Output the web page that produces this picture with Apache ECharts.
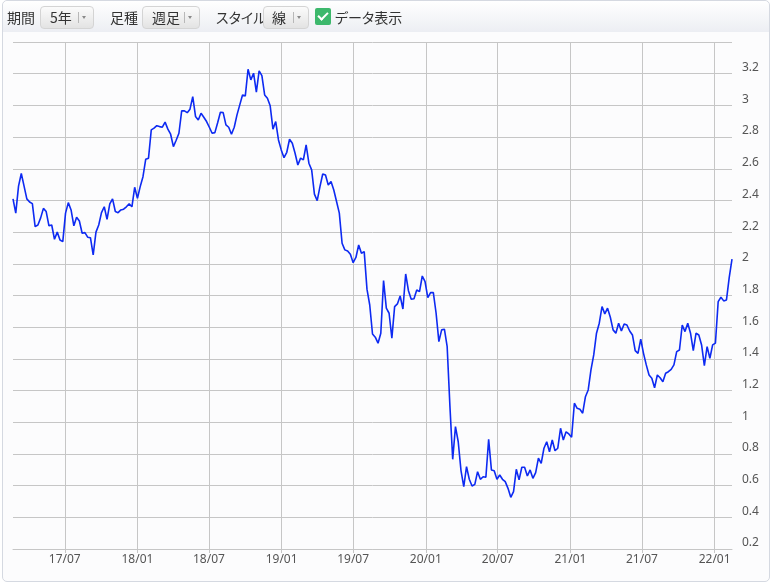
<!DOCTYPE html>
<html>
<head>
<meta charset="utf-8">
<script src="https://cdn.jsdelivr.net/npm/echarts@6/dist/echarts.min.js"></script>
<style>
html,body{margin:0;padding:0;width:774px;height:588px;background:#fff;overflow:hidden;font-family:"Noto Sans CJK JP","Noto Sans",sans-serif;}
#panel{position:absolute;left:2px;top:0;width:766px;height:580px;border:1px solid #d5d9e1;border-radius:5px;background:#fcfcfd;}
#toolbar{position:absolute;left:3px;top:1px;width:766px;height:31px;background:linear-gradient(#ffffff,#eceef3);border-radius:5px 5px 0 0;}
#chart{position:absolute;left:0;top:0;width:774px;height:588px;z-index:2;}
.tb{position:absolute;z-index:3;font-size:14px;color:#333;line-height:20px;top:7px;white-space:nowrap;}
.kana{font-feature-settings:"palt";}
.btn{position:absolute;z-index:3;top:6px;height:21px;border:1px solid #d4d4d4;border-radius:4px;background:linear-gradient(#fbfbfb,#e3e3e3);box-sizing:content-box;}
.btn .t{position:absolute;top:0;font-size:14px;line-height:21px;color:#333;white-space:nowrap;}
.btn .sep{position:absolute;top:5px;width:1px;height:11px;background:#b8b8b8;}
.btn .car{position:absolute;top:9px;width:0;height:0;border-left:2.5px solid transparent;border-right:2.5px solid transparent;border-top:3px solid #8a8a8a;}
#chk{position:absolute;z-index:3;left:315px;top:8px;width:16px;height:17px;background:#3cb86c;border-radius:2px;}
#chk:after{content:"";position:absolute;left:5px;top:2px;width:4px;height:8px;border-right:2px solid #fff;border-bottom:2px solid #fff;transform:rotate(45deg);}
</style>
</head>
<body>
<div id="panel"></div>
<div id="toolbar"></div>
<div class="tb" style="left:7px;">期間</div>
<div class="btn" style="left:40px;width:52px;"><span class="t" style="left:9px;">5年</span><span class="sep" style="left:37px;"></span><span class="car" style="left:41px;"></span></div>
<div class="tb" style="left:110px;">足種</div>
<div class="btn" style="left:142px;width:56px;"><span class="t" style="left:9px;">週足</span><span class="sep" style="left:41px;"></span><span class="car" style="left:45px;"></span></div>
<div class="tb kana" style="left:216px;">スタイル</div>
<div class="btn" style="left:263px;width:44px;"><span class="t" style="left:8px;">線</span><span class="sep" style="left:29px;"></span><span class="car" style="left:33px;"></span></div>
<div id="chk"></div>
<div class="tb kana" style="left:335px;">データ表示</div>
<div id="chart"></div>
<script>
// Weekly series start (first data week) and closing values
const startDate = '2017-02-20';
const values = [
2.41,2.32,2.49,2.57,2.49,2.41,2.39,2.38,2.235,2.245,
2.29,2.35,2.33,2.24,2.245,2.155,2.2,2.15,2.14,2.32,
2.386,2.34,2.24,2.294,2.27,2.193,2.197,2.168,2.165,2.056,
2.2,2.245,2.323,2.36,2.28,2.378,2.41,2.33,2.323,2.34,
2.345,2.36,2.378,2.36,2.483,2.414,2.487,2.55,2.66,2.667,
2.845,2.856,2.872,2.866,2.862,2.894,2.85,2.818,2.74,2.78,
2.824,2.965,2.965,2.954,2.976,3.055,2.93,2.908,2.95,2.925,
2.898,2.862,2.824,2.828,2.89,2.957,2.954,2.877,2.862,2.818,
2.862,2.94,3.003,3.066,3.06,3.228,3.161,3.203,3.083,3.218,
3.188,3.066,3.045,2.997,2.85,2.898,2.782,2.719,2.67,2.704,
2.786,2.761,2.698,2.624,2.667,2.656,2.75,2.635,2.593,2.44,
2.399,2.487,2.567,2.56,2.498,2.519,2.466,2.393,2.32,2.13,
2.088,2.081,2.06,2.007,2.04,2.119,2.067,2.077,1.84,1.74,
1.557,1.537,1.499,1.562,1.894,1.72,1.688,1.53,1.73,1.747,
1.797,1.715,1.936,1.83,1.776,1.78,1.835,1.824,1.923,1.888,
1.787,1.818,1.818,1.688,1.509,1.583,1.587,1.477,1.1,0.766,
0.972,0.877,0.695,0.593,0.72,0.64,0.598,0.608,0.688,0.64,
0.656,0.653,0.893,0.699,0.694,0.64,0.667,0.64,0.625,0.583,
0.526,0.562,0.703,0.636,0.716,0.716,0.661,0.699,0.646,0.682,
0.773,0.741,0.836,0.877,0.814,0.888,0.82,0.836,0.962,0.888,
0.94,0.926,0.905,1.12,1.088,1.082,1.057,1.161,1.204,1.33,
1.425,1.562,1.625,1.73,1.684,1.72,1.663,1.583,1.562,1.625,
1.576,1.62,1.614,1.576,1.551,1.452,1.435,1.524,1.435,1.362,
1.298,1.278,1.218,1.298,1.281,1.256,1.309,1.319,1.334,1.362,
1.446,1.456,1.614,1.572,1.625,1.562,1.452,1.562,1.551,1.488,
1.357,1.477,1.404,1.488,1.499,1.761,1.789,1.766,1.772,1.915,
2.029
];
const tickLabels = ['17/07','18/01','18/07','19/01','19/07','20/01','20/07','21/01','21/07','22/01'];
const yMin = 0.2, yMax = 3.4, yStep = 0.2;

function parseYMD(s){const p=s.split('-').map(Number);return new Date(p[0],p[1]-1,p[2]).getTime();}
const start = parseYMD(startDate);
const dates = values.map((_, i) => { const d = new Date(start); d.setDate(d.getDate() + 7 * i); return d.getTime(); });
const data = values.map((v, i) => [dates[i], v]);
const tickVals = tickLabels.map(l => { const p = l.split('/'); return new Date(2000 + (+p[0]), (+p[1]) - 1, 1).getTime(); });

const gridColor = '#c6c6c6';
const chart = echarts.init(document.getElementById('chart'), null, {renderer: 'canvas'});
chart.setOption({
  animation: false,
  grid: {left: 13, right: 42, top: 42, bottom: 39, containLabel: false},
  xAxis: {
    type: 'value',
    min: dates[0],
    max: dates[dates.length - 1],
    axisLine: {show: true, lineStyle: {color: gridColor, width: 1}},
    axisTick: {show: true, length: 4, lineStyle: {color: gridColor}, customValues: tickVals},
    axisLabel: {
      customValues: tickVals, margin: 5, color: '#555', fontSize: 12, fontFamily: 'Noto Sans',
      formatter: v => { const i = tickVals.indexOf(v); return i >= 0 ? tickLabels[i] : ''; }
    },
    splitLine: {show: true, lineStyle: {color: gridColor, width: 1}}
  },
  yAxis: {
    type: 'value',
    position: 'right',
    min: yMin, max: yMax, interval: yStep,
    axisLine: {show: false},
    axisTick: {show: false},
    axisLabel: {margin: 10, color: '#555', fontSize: 12, fontFamily: 'Noto Sans', verticalAlign: 'bottom', showMaxLabel: false, showMinLabel: true},
    splitLine: {show: true, lineStyle: {color: gridColor, width: 1}}
  },
  series: [{
    type: 'line',
    data: data,
    showSymbol: false,
    symbol: 'none',
    lineStyle: {color: '#0d2af2', width: 1.6},
    itemStyle: {color: '#0d2af2'}
  }]
});
</script>
</body>
</html>
